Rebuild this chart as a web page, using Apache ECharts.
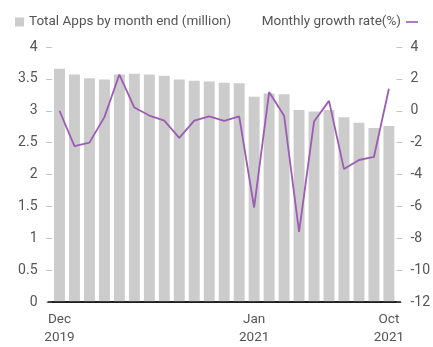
<!DOCTYPE html>
<html>
<head>
<meta charset="utf-8">
<script src="https://cdn.jsdelivr.net/npm/echarts@6/dist/echarts.min.js"></script>
<style>html,body{margin:0;padding:0;background:#fff}#c{width:433px;height:347px}</style>
</head>
<body>
<div id="c"></div>
<script>
const months = ["Dec 2019","Jan 2020","Feb 2020","Mar 2020","Apr 2020","May 2020","Jun 2020","Jul 2020","Aug 2020","Sep 2020","Oct 2020","Nov 2020","Dec 2020","Jan 2021","Feb 2021","Mar 2021","Apr 2021","May 2021","Jun 2021","Jul 2021","Aug 2021","Sep 2021","Oct 2021"];
const totalApps = [3.66,3.57,3.51,3.49,3.57,3.58,3.57,3.55,3.49,3.47,3.46,3.44,3.43,3.22,3.27,3.26,3.01,2.99,3.01,2.90,2.81,2.73,2.76];
const growthRate = [0.0,-2.22,-2.0,-0.4,2.27,0.2,-0.3,-0.62,-1.7,-0.62,-0.35,-0.64,-0.35,-6.07,1.17,-0.31,-7.6,-0.68,0.62,-3.66,-3.09,-2.9,1.38];
const xTickLabels = {0:"Dec\n2019",13:"Jan\n2021",22:"Oct\n2021"};
const leftTicks = {min:0,max:4,interval:0.5};
const rightTicks = {min:-12,max:4,interval:2};

const chart = echarts.init(document.getElementById('c'), null, {renderer:'canvas'});
const txt = {color:'#555', fontFamily:'Roboto', fontSize:13.5};
const showIdx = (i) => xTickLabels.hasOwnProperty(i);
chart.setOption({
  animation:false,
  textStyle:{fontFamily:'Roboto'},
  legend:[
    {data:[{name:'Total Apps by month end (million)', icon:'rect'}], left:10, top:10, itemWidth:9, itemHeight:9, itemGap:6, textStyle:txt},
    {data:[{name:'Monthly growth rate(%)', icon:'path://M0,0 L12,0 L12,1.6 L0,1.6 Z'}], right:10, top:10, align:'right', itemWidth:12, itemHeight:2, textStyle:txt}
  ],
  grid:{left:52, right:36, top:47, bottom:41, containLabel:false},
  xAxis:{
    type:'category', data:months, boundaryGap:true,
    axisLine:{lineStyle:{color:'#111', width:1.5}},
    axisTick:{alignWithLabel:true, interval:(i)=>showIdx(i), length:6, lineStyle:{color:'#555'}},
    axisLabel:{interval:(i)=>showIdx(i), formatter:(v,i)=>xTickLabels[i]||'', color:'#555', fontSize:13.5, lineHeight:18, margin:9, fontFamily:'Roboto'}
  },
  yAxis:[
    {type:'value', min:leftTicks.min, max:leftTicks.max, interval:leftTicks.interval,
     axisLine:{show:false}, splitLine:{show:false},
     axisTick:{show:true, length:6, lineStyle:{color:'#c4c4c4', width:1}},
     axisLabel:{color:'#555', fontSize:14, margin:14.5, fontFamily:'Roboto'}},
    {type:'value', min:rightTicks.min, max:rightTicks.max, interval:rightTicks.interval, position:'right',
     axisLine:{show:false}, splitLine:{show:false},
     axisTick:{show:true, length:6, lineStyle:{color:'#c4c4c4', width:1}},
     axisLabel:{color:'#555', fontSize:14, margin:14, fontFamily:'Roboto'}}
  ],
  series:[
    {name:'Total Apps by month end (million)', type:'bar', data:totalApps, yAxisIndex:0, barCategoryGap:'27%', itemStyle:{color:'#cccccc'}, z:1},
    {name:'Monthly growth rate(%)', type:'line', data:growthRate, yAxisIndex:1, symbol:'none', lineStyle:{color:'#9c5cb4', width:1.8}, itemStyle:{color:'#9c5cb4'}, z:3}
  ]
});
// extend the baseline a little past the plot edges, as in the reference
const y0 = chart.convertToPixel({yAxisIndex:0}, 0);
const xL = chart.convertToPixel({xAxisIndex:0}, 0) - 12;
const xR = chart.convertToPixel({xAxisIndex:0}, months.length-1) + 12;
chart.setOption({graphic:[{type:'line', shape:{x1:xL, y1:y0, x2:xR, y2:y0}, style:{stroke:'#111', lineWidth:1.5}, z:10}]});
</script>
</body>
</html>
